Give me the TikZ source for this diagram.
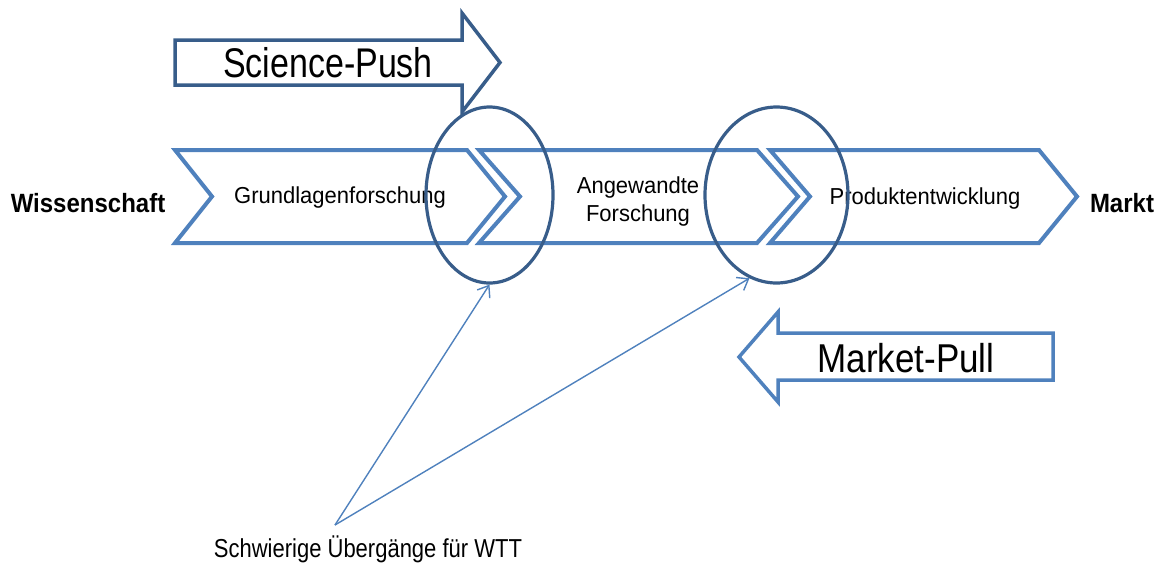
\documentclass[tikz,border=0pt]{standalone}
\usepackage{fontspec}
\setmainfont{Liberation Sans}
\usepackage{graphicx}
\usetikzlibrary{shapes.geometric,arrows.meta}
\definecolor{lightblue}{HTML}{4F81BD}
\definecolor{darkblue}{HTML}{385D8A}
\newcommand{\vsc}[2]{\scalebox{1}[#1]{#2}}
\tikzset{
  chev/.style={draw=lightblue, line width=4pt, line join=miter},
  bigarrow/.style={line width=3.5pt, line join=miter},
  ring/.style={ellipse, draw=darkblue, line width=3.2pt, inner sep=0pt},
  pointer/.style={draw=lightblue, line width=1.4pt, -{Straight Barb[length=10pt,width=15pt,line width=1.4pt]}},
  lbl/.style={inner sep=0pt, anchor=base, font=\fontsize{22}{24}\selectfont},
  endlbl/.style={inner sep=0pt, anchor=base, font=\fontsize{24}{26}\selectfont\bfseries},
}
\begin{document}
\begin{tikzpicture}[x=1pt,y=1pt]
\useasboundingbox (0,0) rectangle (1162,-563);
% Science-Push arrow
\draw[bigarrow, draw=darkblue] (175,-40) -- (462,-40) -- (462,-13) -- (500,-62.5) -- (462,-112) -- (462,-85) -- (175,-85) -- cycle;
\node[lbl, font=\fontsize{34}{36}\selectfont] (sp) at (328,-77) {\vsc{1.22}{Science-Push}};
% Market-Pull arrow
\draw[bigarrow, draw=lightblue] (1053,-333) -- (778,-333) -- (778,-312) -- (739,-357) -- (778,-402) -- (778,-380) -- (1053,-380) -- cycle;
\node[lbl, font=\fontsize{35}{37}\selectfont] (mp) at (906,-372) {\vsc{1.15}{Market-Pull}};
% chevrons
\draw[chev] (175,-150) -- (467,-150) -- (505,-196.5) -- (467,-243) -- (175,-243) -- (212,-196.5) -- cycle;
\draw[chev] (479,-150) -- (757,-150) -- (798,-196.5) -- (757,-243) -- (479,-243) -- (520,-196.5) -- cycle;
\draw[chev] (770,-150) -- (1039,-150) -- (1077,-196.5) -- (1039,-243) -- (770,-243) -- (810,-196.5) -- cycle;
\node[lbl] (g) at (340,-203) {\vsc{1.05}{Grundlagenforschung}};
\node[lbl] (a1) at (638,-193) {\vsc{1.05}{Angewandte}};
\node[lbl] (a2) at (638,-221) {\vsc{1.05}{Forschung}};
\node[lbl] (p) at (925,-204) {\vsc{1.05}{Produktentwicklung}};
\node[endlbl] (w) at (88,-212) {\vsc{1.1}{Wissenschaft}};
\node[endlbl] (m) at (1122,-212) {\vsc{1.1}{Markt}};
% rings
\node[ring, minimum width=127pt, minimum height=176pt] (c1) at (489.5,-195) {};
\node[ring, minimum width=143pt, minimum height=176pt] (c2) at (776.5,-195) {};
% pointers
\coordinate (s) at (335,-525);
\draw[pointer] (s) -- (c1.south);
\draw[pointer] (s) -- (c2.252);
\node[lbl] (t) at (368,-557) {\vsc{1.18}{Schwierige Übergänge für WTT}};
\end{tikzpicture}
\end{document}
